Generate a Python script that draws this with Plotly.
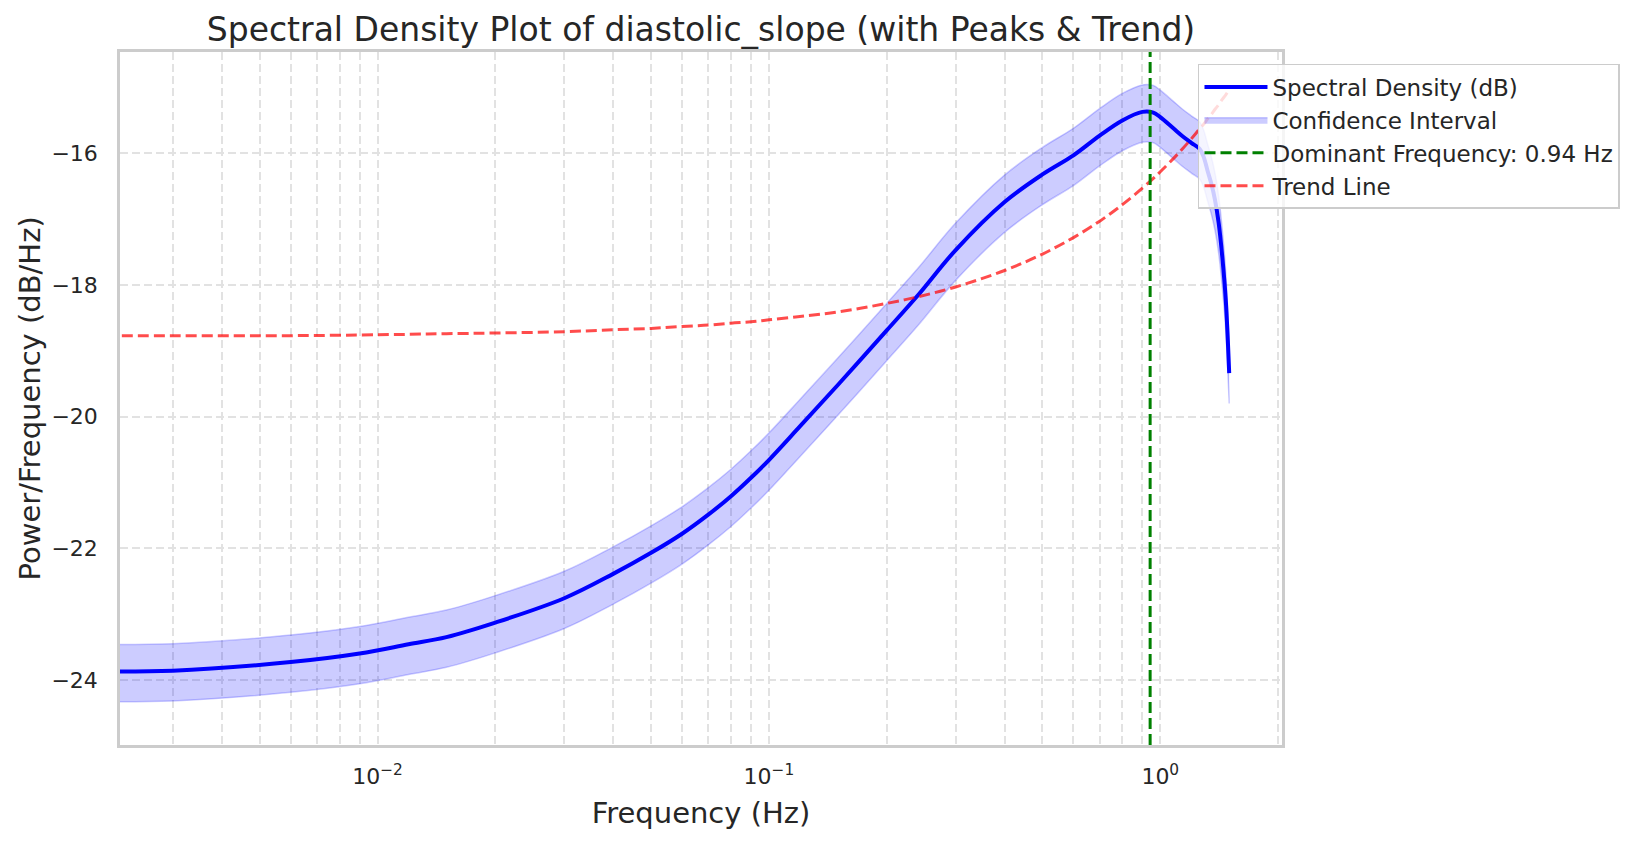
import plotly.graph_objects as go

# ---- data ----
freqs = [0.003, 0.006, 0.009, 0.012, 0.015, 0.02, 0.03, 0.04, 0.05, 0.06, 0.07, 0.08, 0.09, 0.10,
         0.12, 0.15, 0.2, 0.24, 0.3, 0.4, 0.5, 0.6, 0.7, 0.8, 0.9, 0.96, 1.0, 1.08, 1.14, 1.2,
         1.26, 1.29, 1.32, 1.35, 1.38, 1.41, 1.44, 1.47, 1.5]
psd_db = [-23.86, -23.73, -23.60, -23.46, -23.35, -23.13, -22.76, -22.39, -22.07, -21.78, -21.49,
          -21.21, -20.93, -20.66, -20.15, -19.52, -18.69, -18.16, -17.47, -16.74, -16.32, -16.03,
          -15.73, -15.50, -15.37, -15.38, -15.45, -15.62, -15.74, -15.84, -15.93, -16.05, -16.26,
          -16.46, -16.71, -17.06, -17.57, -18.23, -19.34]
ci_upper = [-23.45, -23.32, -23.19, -23.05, -22.94, -22.72, -22.35, -21.98, -21.66, -21.37, -21.08,
            -20.80, -20.52, -20.25, -19.74, -19.11, -18.28, -17.75, -17.06, -16.33, -15.91, -15.62,
            -15.32, -15.09, -14.96, -14.97, -15.04, -15.21, -15.33, -15.43, -15.52, -15.64, -15.85,
            -16.05, -16.30, -16.65, -17.16, -17.82, -18.93]
ci_lower = [-24.32, -24.19, -24.06, -23.92, -23.81, -23.59, -23.22, -22.85, -22.53, -22.24, -21.95,
            -21.67, -21.39, -21.12, -20.61, -19.98, -19.15, -18.62, -17.93, -17.20, -16.78, -16.49,
            -16.19, -15.96, -15.83, -15.84, -15.91, -16.08, -16.20, -16.30, -16.39, -16.51, -16.72,
            -16.92, -17.17, -17.52, -18.03, -18.69, -19.80]
trend_db = [-18.77, -18.77, -18.76, -18.75, -18.74, -18.73, -18.71, -18.68, -18.66, -18.63, -18.61,
            -18.58, -18.56, -18.53, -18.48, -18.41, -18.28, -18.18, -18.03, -17.78, -17.53, -17.28,
            -17.03, -16.78, -16.53, -16.38, -16.28, -16.08, -15.93, -15.78, -15.63, -15.56, -15.48,
            -15.41, -15.33, -15.26, -15.18, -15.11, -15.03]
dominant_freq = 0.942
dominant_label = "Dominant Frequency: 0.94 Hz"

y_tick_vals = [-24, -22, -20, -18, -16]
x_tick_vals = [0.01, 0.1, 1]
x_tick_text = ["10<sup>−2</sup>", "10<sup>−1</sup>", "10<sup>0</sup>"]
x_minor_vals = [k * 10 ** d for d in (-3, -2, -1, 0) for k in range(2, 10)]

X_RANGE_LOG = [-2.658, 0.311]
Y_RANGE = [-24.99, -14.46]

# the zero-frequency bin is drawn off to the left edge (as in a clipped log axis)
f_left = 10 ** (X_RANGE_LOG[0] - 0.2)
fx = [f_left] + freqs
psd_x = [psd_db[0]] + psd_db
up_x = [ci_upper[0]] + ci_upper
lo_x = [ci_lower[0]] + ci_lower
tr_x = [trend_db[0]] + trend_db

FONT = "DejaVu Sans"
TXT = "#262626"
GRID = "#e2e2e2"
SPINE = "#cccccc"
SMOOTH = 1.0

fig = go.Figure()

fig.add_trace(go.Scatter(
    x=fx, y=lo_x, mode="lines", showlegend=False, hoverinfo="skip",
    line=dict(color="rgba(0,0,255,0.2)", width=1.5, shape="spline", smoothing=SMOOTH)))
fig.add_trace(go.Scatter(
    x=fx, y=up_x, mode="lines", fill="tonexty", fillcolor="rgba(0,0,255,0.2)",
    line=dict(color="rgba(0,0,255,0.2)", width=1.5, shape="spline", smoothing=SMOOTH),
    name="Confidence Interval", legendrank=2, hoverinfo="skip"))

fig.add_trace(go.Scatter(
    x=fx, y=psd_x, mode="lines", name="Spectral Density (dB)",
    line=dict(color="#0000ff", width=4, shape="spline", smoothing=SMOOTH), legendrank=1))

fig.add_trace(go.Scatter(
    x=fx, y=tr_x, mode="lines", name="Trend Line",
    line=dict(color="rgba(255,0,0,0.7)", width=3, dash="11px,5px", shape="spline", smoothing=SMOOTH),
    legendrank=4))

fig.add_shape(type="line", xref="x", yref="paper", x0=dominant_freq, x1=dominant_freq, y0=0, y1=1,
              line=dict(color="#008000", width=3, dash="11px,5px"),
              showlegend=True, name=dominant_label, legendrank=3)

axis_common = dict(
    showline=True, linecolor=SPINE, linewidth=2.5, mirror=True,
    showgrid=True, gridcolor=GRID, gridwidth=1.5, griddash="8px,4px",
    zeroline=False, ticks="", tickfont=dict(family=FONT, size=22, color=TXT),
)

fig.update_xaxes(
    type="log", range=X_RANGE_LOG, tickmode="array", tickvals=x_tick_vals, ticktext=x_tick_text,
    minor=dict(tickmode="array", tickvals=x_minor_vals, showgrid=True, gridcolor=GRID,
               gridwidth=1.5, griddash="8px,4px", ticks=""),
    title=dict(text="Frequency (Hz)", font=dict(family=FONT, size=29, color=TXT), standoff=15),
    ticklabelstandoff=10, **axis_common)

fig.update_yaxes(
    range=Y_RANGE, tickmode="array", tickvals=y_tick_vals,
    ticklabelstandoff=15, **axis_common)

fig.add_annotation(text="Power/Frequency (dB/Hz)", xref="paper", yref="paper",
                   x=(29 - 120) / 1162, y=0.5, xanchor="center", yanchor="middle",
                   textangle=-90, showarrow=False, font=dict(family=FONT, size=29, color=TXT))

fig.update_layout(
    width=1634, height=842,
    margin=dict(l=120, r=352, t=52, b=97, autoexpand=False),
    paper_bgcolor="white", plot_bgcolor="white",
    title=dict(text="Spectral Density Plot of diastolic_slope (with Peaks & Trend)",
               font=dict(family=FONT, size=33, color=TXT),
               x=0.5, xref="paper", xanchor="center", y=1 - 29 / 842, yref="container", yanchor="middle"),
    legend=dict(x=0.9277, y=0.9827, xanchor="left", yanchor="top", traceorder="normal",
                bgcolor="rgba(255,255,255,0.8)", bordercolor=SPINE, borderwidth=1.5,
                font=dict(family=FONT, size=23, color=TXT), itemwidth=63),
    showlegend=True,
)

fig.write_html("out.html")
